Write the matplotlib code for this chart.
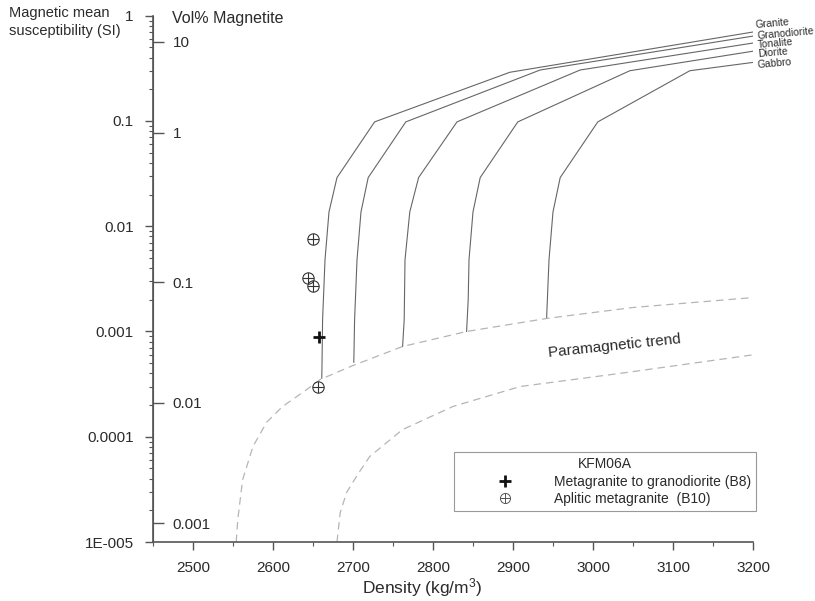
"""
Density versus magnetic susceptibility plot for KFM06A rock samples,
with model curves for common rock types and the paramagnetic trend.
"""

import matplotlib

matplotlib.use("Agg")
import matplotlib.pyplot as plt
from matplotlib.lines import Line2D
from matplotlib.ticker import LogLocator, MultipleLocator, NullFormatter, NullLocator

plt.rcParams["font.family"] = ["Liberation Sans", "DejaVu Sans"]
plt.rcParams["mathtext.default"] = "regular"

TEXT = "#2b2b2b"
AXIS = "#555555"

# model curves (density kg/m3, susceptibility SI)
rock_names = ["Granite", "Granodiorite", "Tonalite", "Diorite", "Gabbro"]

granite_density = [2661, 2662, 2665, 2670, 2680, 2727, 2896, 3200]
granite_chi = [3.6e-4, 1.3e-3, 4.8e-3, 1.37e-2, 2.9e-2, 9.8e-2, 0.29, 0.70]

granodiorite_density = [2701, 2702, 2705, 2710, 2719, 2766, 2934, 3200]
granodiorite_chi = [5.1e-4, 1.3e-3, 4.8e-3, 1.37e-2, 2.9e-2, 9.8e-2, 0.305, 0.64]

tonalite_density = [2762, 2764, 2765, 2771, 2782, 2830, 2984, 3200]
tonalite_chi = [7.2e-4, 1.3e-3, 4.8e-3, 1.37e-2, 2.9e-2, 9.8e-2, 0.305, 0.55]

diorite_density = [2842, 2844, 2845, 2850, 2859, 2906, 3046, 3200]
diorite_chi = [1.0e-3, 2.0e-3, 4.8e-3, 1.37e-2, 2.9e-2, 9.8e-2, 0.30, 0.46]

gabbro_density = [2942, 2945, 2950, 2959, 3006, 3121, 3200]
gabbro_chi = [1.33e-3, 4.8e-3, 1.37e-2, 2.9e-2, 9.8e-2, 0.30, 0.36]

# paramagnetic trend envelope
para_upper_density = [2554, 2556, 2562, 2575, 2592, 2612, 2642, 2659, 2700,
                      2762, 2842, 2942, 3050, 3200]
para_upper_chi = [1.0e-5, 1.64e-5, 3.9e-5, 8.1e-5, 1.37e-4, 1.94e-4, 2.8e-4,
                  3.5e-4, 4.75e-4, 7.2e-4, 1.0e-3, 1.33e-3, 1.69e-3, 2.1e-3]
para_lower_density = [2680, 2684, 2692, 2706, 2721, 2762, 2825, 2909, 3034, 3200]
para_lower_chi = [1.0e-5, 1.9e-5, 2.95e-5, 4.4e-5, 6.5e-5, 1.17e-4, 1.94e-4,
                  3.0e-4, 4.0e-4, 6.0e-4]

# samples
b8_density = [2657]
b8_chi = [8.9e-4]
b10_density = [2650, 2644, 2650, 2656]
b10_chi = [7.6e-3, 3.2e-3, 2.7e-3, 3.0e-4]

# axis ticks
density_ticks = [2500, 2600, 2700, 2800, 2900, 3000, 3100, 3200]
chi_ticks = [1, 0.1, 0.01, 0.001, 0.0001, 1e-5]
chi_labels = ["1", "0.1", "0.01", "0.001", "0.0001", "1E-005"]
vol_ticks_chi = [0.567, 0.077, 2.95e-3, 2.1e-4, 1.5e-5]
vol_labels = ["10", "1", "0.1", "0.01", "0.001"]


def main() -> None:
    fig = plt.figure(figsize=(8.15, 6.01), dpi=100)
    ax = fig.add_axes([153 / 815, 1 - 542 / 601, 600 / 815, 526.3 / 601])
    ax.set_yscale("log")
    ax.set_xlim(2450, 3200)
    ax.set_ylim(1e-5, 1)

    curves = [
        (granite_density, granite_chi),
        (granodiorite_density, granodiorite_chi),
        (tonalite_density, tonalite_chi),
        (diorite_density, diorite_chi),
        (gabbro_density, gabbro_chi),
    ]
    label_offsets = [(1, 6), (3, 2), (3, 0), (3, -1), (3, -1)]
    for (dens, chi), name, off in zip(curves, rock_names, label_offsets):
        ax.plot(dens, chi, color="#666666", lw=0.8)
        ax.annotate(name, (dens[-1], chi[-1]), xytext=off,
                    textcoords="offset points", fontsize=7.5, color=TEXT,
                    va="center", ha="left", rotation=5,
                    annotation_clip=False)

    for dens, chi in [(para_upper_density, para_upper_chi),
                      (para_lower_density, para_lower_chi)]:
        ax.plot(dens, chi, color="#b5b5b5", lw=0.9, dashes=(6, 4))

    ax.text(3027, 7.2e-4, "Paramagnetic trend", fontsize=11, color=TEXT,
            rotation=6, ha="center", va="center")

    ax.plot(b8_density, b8_chi, ls="none", marker="+", ms=8, mew=2,
            color="#111111")
    ax.plot(b10_density, b10_chi, ls="none", marker=r"$\oplus$", ms=9,
            mew=0, color="#333333")

    # axes styling
    for side in ("top", "right"):
        ax.spines[side].set_visible(False)
    for side in ("left", "bottom"):
        ax.spines[side].set_color(AXIS)
        ax.spines[side].set_linewidth(1.2)

    ax.set_xticks(density_ticks)
    ax.xaxis.set_minor_locator(MultipleLocator(50))
    ax.set_yticks(chi_ticks, labels=chi_labels)
    ax.yaxis.set_minor_locator(LogLocator(base=10, subs=range(2, 10)))
    ax.yaxis.set_minor_formatter(NullFormatter())
    ax.tick_params(which="major", direction="out", length=6, width=1,
                   color=AXIS, labelcolor=TEXT, labelsize=11, pad=8)
    ax.tick_params(which="minor", direction="out", length=3, width=0.8,
                   color=AXIS)

    # vol% magnetite scale on the right side of the same spine
    sec = ax.secondary_yaxis(0.0)
    sec.set_yticks(vol_ticks_chi, labels=vol_labels)
    sec.yaxis.set_minor_locator(NullLocator())
    sec.yaxis.set_ticks_position("right")
    sec.tick_params(which="major", direction="out", length=8, width=1,
                    color=AXIS, labelcolor=TEXT, labelsize=11, pad=6,
                    left=False, labelleft=False, right=True, labelright=True)
    for sp in sec.spines.values():
        sp.set_color(AXIS)

    ax.set_xlabel("Density (kg/m$^{3}$)", fontsize=12.5, color=TEXT)
    ax.xaxis.set_label_coords((422 - 153) / 600, -0.064)

    fig.text(9 / 815, 1 - 6 / 601, "Magnetic mean\nsusceptibility (SI)",
             fontsize=10.5, color=TEXT, va="top", ha="left", linespacing=1.35)
    fig.text(172 / 815, 1 - 18 / 601, "Vol% Magnetite", fontsize=11.5,
             color=TEXT, va="center", ha="left")

    handles = [
        Line2D([], [], ls="none", marker="+", ms=8, mew=2, color="#111111"),
        Line2D([], [], ls="none", marker=r"$\oplus$", ms=8, mew=0,
               color="#555555"),
    ]
    leg = ax.legend(handles,
                    ["Metagranite to granodiorite (B8)",
                     "Aplitic metagranite  (B10)"],
                    title="KFM06A", fontsize=10, title_fontsize=10,
                    loc="lower right",
                    bbox_to_anchor=(756 / 815, 1 - 511 / 601),
                    bbox_transform=fig.transFigure, borderaxespad=0,
                    fancybox=False, framealpha=1, edgecolor="#999999",
                    handlelength=6.6, handletextpad=0.25, borderpad=0.35,
                    labelspacing=0.25)
    leg.get_frame().set_linewidth(0.8)
    for t in leg.get_texts():
        t.set_color(TEXT)
    leg.get_title().set_color(TEXT)

    fig.savefig("out.png", dpi=100, facecolor="white")


if __name__ == "__main__":
    main()
